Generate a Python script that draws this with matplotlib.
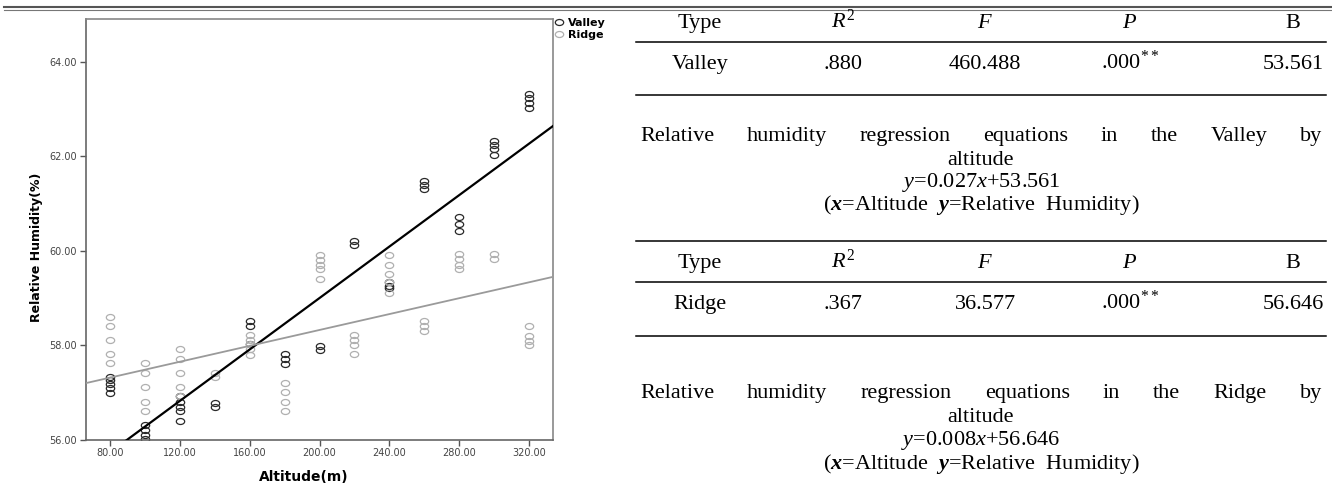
import matplotlib
matplotlib.use('Agg')
import matplotlib.pyplot as plt
from matplotlib.lines import Line2D
from matplotlib.path import Path
from matplotlib.transforms import Affine2D

plt.rcParams['font.family'] = 'DejaVu Sans'
plt.rcParams['mathtext.fontset'] = 'custom'
plt.rcParams['mathtext.rm'] = 'Liberation Serif'
plt.rcParams['mathtext.it'] = 'Liberation Serif:italic'
plt.rcParams['mathtext.bf'] = 'Liberation Serif:bold'
plt.rcParams['mathtext.bfit'] = 'Liberation Serif:italic:bold'

# scatter data: altitude (m) vs relative humidity (%)
valley_alt = [80, 80, 80, 80, 80,
              100, 100, 100, 100,
              120, 120, 120, 120, 120,
              140, 140,
              160, 160, 160,
              180, 180, 180,
              200, 200,
              220, 220,
              240, 240, 240,
              260, 260, 260,
              280, 280, 280,
              300, 300, 300, 300,
              320, 320, 320, 320]
valley_rh = [57.34, 57.27, 57.18, 57.09, 57.00,
             56.32, 56.21, 56.10, 56.02,
             56.92, 56.80, 56.70, 56.62, 56.41,
             56.79, 56.70,
             58.52, 58.42, 58.02,
             57.81, 57.71, 57.61,
             57.99, 57.90,
             60.21, 60.13,
             59.33, 59.25, 59.21,
             61.48, 61.39, 61.30,
             60.72, 60.56, 60.42,
             62.33, 62.24, 62.15, 62.03,
             63.32, 63.22, 63.12, 63.02]

ridge_alt = [80, 80, 80, 80, 80,
             100, 100, 100, 100, 100,
             120, 120, 120, 120, 120,
             140, 140,
             160, 160, 160, 160, 160,
             180, 180, 180, 180,
             200, 200, 200, 200, 200,
             220, 220, 220, 220,
             240, 240, 240, 240, 240,
             260, 260, 260,
             280, 280, 280, 280,
             300, 300,
             320, 320, 320, 320]
ridge_rh = [58.60, 58.42, 58.11, 57.81, 57.62,
            57.62, 57.41, 57.11, 56.81, 56.62,
            57.92, 57.72, 57.41, 57.11, 56.92,
            57.41, 57.33,
            58.22, 58.11, 58.02, 57.92, 57.80,
            57.21, 57.01, 56.81, 56.61,
            59.91, 59.81, 59.70, 59.61, 59.41,
            58.22, 58.11, 58.00, 57.81,
            59.92, 59.71, 59.51, 59.33, 59.11,
            58.52, 58.41, 58.31,
            59.93, 59.82, 59.71, 59.61,
            59.93, 59.82,
            58.41, 58.20, 58.10, 58.01]

# fitted lines (slope, intercept) as drawn in the figure
valley_fit = (0.0272, 53.561)
ridge_fit = (0.0084, 56.646)

xticks = [80, 120, 160, 200, 240, 280, 320]
yticks = [56, 58, 60, 62, 64]

table_head = ['Type', '$R^2$', '$F$', '$P$', 'B']
valley_row = ['Valley', '.880', '460.488', '.000$^{**}$', '53.561']
ridge_row = ['Ridge', '.367', '36.577', '.000$^{**}$', '56.646']
valley_title = 'Relative humidity regression equations in the Valley by'
ridge_title = 'Relative humidity regression equations in the Ridge by'
valley_eq = r'$\mathit{y}$=0.027$\mathit{x}$+53.561'
ridge_eq = r'$\mathit{y}$=0.008$\mathit{x}$+56.646'
var_note = r'($\mathbfit{x}$=Altitude  $\mathbfit{y}$=Relative  Humidity)'

W, H = 1332, 487
fig = plt.figure(figsize=(W / 100, H / 100), dpi=100)


def fx(px):
    return px / W


def fy(py):
    return 1 - py / H


# ---- scatter chart ----
ax = fig.add_axes([fx(86), fy(440), (553 - 86) / W, (440 - 19) / H])
ell = Path.unit_circle().transformed(Affine2D().scale(1.0, 0.72))

lv, = ax.plot(valley_alt, valley_rh, ls='none', marker=ell, ms=6, mfc='none',
              mec='#2a2a2a', mew=0.9, label='Valley')
lr, = ax.plot(ridge_alt, ridge_rh, ls='none', marker=ell, ms=6, mfc='none',
              mec='#b0b0b0', mew=0.9, label='Ridge')

xlo, xhi = 66.3, 333.7
ax.plot([xlo, xhi], [valley_fit[1] + valley_fit[0] * xlo, valley_fit[1] + valley_fit[0] * xhi],
        color='black', lw=1.6, zorder=3)
ax.plot([xlo, xhi], [ridge_fit[1] + ridge_fit[0] * xlo, ridge_fit[1] + ridge_fit[0] * xhi],
        color='#9a9a9a', lw=1.3, zorder=3)

ax.set_xlim(xlo, xhi)
ax.set_ylim(56, 64.9)
ax.set_xticks(xticks)
ax.set_yticks(yticks)
ax.set_xticklabels(['%.2f' % v for v in xticks])
ax.set_yticklabels(['%.2f' % v for v in yticks])
ax.tick_params(direction='out', length=4, width=1, color='#555', labelcolor='#444',
               labelsize=7)
ax.tick_params(axis='x', pad=2)
ax.tick_params(axis='y', pad=2.5)
for s in ax.spines.values():
    s.set_color('#888')
    s.set_linewidth(1.2)
ax.spines['left'].set_color('#666')
ax.spines['bottom'].set_color('#666')

ax.set_xlabel('Altitude(m)', fontweight='bold', fontsize=10)
ax.xaxis.set_label_coords((304 - 86) / 467, -0.072)
ax.set_ylabel('Relative Humidity(%)', fontweight='bold', fontsize=9)
ax.yaxis.set_label_coords(-0.092, (440 - 247) / 421)

ax.legend(handles=[lv, lr], loc='upper left', bbox_to_anchor=(fx(555), fy(18)),
          bbox_transform=fig.transFigure, frameon=False, borderpad=0, borderaxespad=0,
          handlelength=0.8, handletextpad=0.4, labelspacing=0.15,
          prop={'weight': 'bold', 'size': 8})

# ---- top double rule ----
fig.add_artist(Line2D([fx(4), 1], [fy(6.7), fy(6.7)], color='#555', lw=1.5))
fig.add_artist(Line2D([fx(4), 1], [fy(9.5), fy(9.5)], color='#777', lw=0.8))

# ---- regression tables ----
serif = 'Liberation Serif'
tsize = 16
col_x = [700, 843, 985, 1130, 1293]
tx0, tx1 = 636, 1326
renderer = fig.canvas.get_renderer()


def row(cells, py):
    for cx, s in zip(col_x, cells):
        fig.text(fx(cx), fy(py + 6), s, ha='center', va='baseline', family=serif, size=tsize)


def rule(py):
    fig.add_artist(Line2D([fx(tx0), fx(tx1)], [fy(py), fy(py)], color='black', lw=1.1))


def justified(text, py, x0, x1):
    words = text.split()
    ts = [fig.text(0, fy(py + 6), w, ha='left', va='baseline', family=serif, size=tsize)
          for w in words]
    widths = [t.get_window_extent(renderer).width for t in ts]
    gap = (x1 - x0 - sum(widths)) / (len(ts) - 1)
    x = x0
    for t, w in zip(ts, widths):
        t.set_x(fx(x))
        x += w + gap


def centered(text, py):
    fig.text(fx((tx0 + tx1) / 2), fy(py + 6), text, ha='center', va='baseline',
             family=serif, size=tsize)


row(table_head, 22)
rule(42)
row(valley_row, 63)
rule(95)
justified(valley_title, 135, 640, 1322)
centered('altitude', 159)
centered(valley_eq, 181)
centered(var_note, 204)
rule(241)
row(table_head, 262)
rule(282)
row(ridge_row, 303)
rule(336)
justified(ridge_title, 392, 640, 1322)
centered('altitude', 416)
centered(ridge_eq, 439)
centered(var_note, 463)

fig.savefig('out.png', dpi=100)
